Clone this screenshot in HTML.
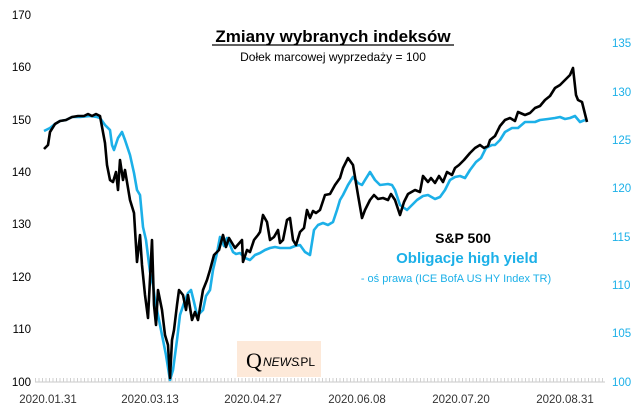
<!DOCTYPE html>
<html><head><meta charset="utf-8"><style>
body{margin:0;background:#fff;width:642px;height:415px;overflow:hidden}
svg{font-family:"Liberation Sans",sans-serif}
</style></head><body>
<svg width="642" height="415" viewBox="0 0 642 415">
<g font-size="11.5" fill="#000" text-anchor="end">
<text x="31" y="19">170</text><text x="31" y="71">160</text><text x="31" y="124">150</text>
<text x="31" y="176">140</text><text x="31" y="228">130</text><text x="31" y="281">120</text>
<text x="31" y="333">110</text><text x="31" y="386">100</text>
</g>
<g font-size="11.5" fill="#1cb0e8">
<text x="612" y="47">135</text><text x="612" y="96">130</text><text x="612" y="144">125</text>
<text x="612" y="192">120</text><text x="612" y="241">115</text><text x="612" y="289">110</text>
<text x="612" y="337">105</text><text x="612" y="386">100</text>
</g>
<line x1="35" y1="382" x2="605" y2="382" stroke="#c8c8c8" stroke-width="1"/>
<line x1="35" y1="380" x2="605" y2="380" stroke="#d0d0d0" stroke-width="4" stroke-dasharray="1 2.5"/>
<g font-size="11.5" fill="#333" text-anchor="middle">
<text x="48" y="403">2020.01.31</text><text x="150" y="403">2020.03.13</text><text x="253" y="403">2020.04.27</text>
<text x="357" y="403">2020.06.08</text><text x="461" y="403">2020.07.20</text><text x="565" y="403">2020.08.31</text>
</g>
<text x="333" y="42" font-size="17" font-weight="bold" text-anchor="middle">Zmiany wybranych indeksów</text>
<line x1="212" y1="45" x2="454" y2="45" stroke="#000" stroke-width="1.3"/>
<text x="333" y="61" font-size="12" text-anchor="middle">Dołek marcowej wyprzedaży = 100</text>
<text x="463" y="243" font-size="14" font-weight="bold" text-anchor="middle">S&amp;P 500</text>
<text x="467" y="263" font-size="15" font-weight="bold" fill="#1cb0e8" text-anchor="middle">Obligacje high yield</text>
<text x="456" y="282" font-size="11" fill="#1cb0e8" text-anchor="middle">- oś prawa (ICE BofA US HY Index TR)</text>
<rect x="237" y="341" width="84" height="36" fill="#fde9d9"/>
<text x="246" y="368" font-family="Liberation Serif" font-size="22" fill="#000">Q</text>
<text x="263" y="366" font-size="12" font-style="italic" fill="#000">NEWS</text>
<text x="297" y="366" font-size="12" fill="#000">.PL</text>
<polyline fill="none" stroke="#1cb0e8" stroke-width="2.6" stroke-linejoin="round" points="44,131 50,128 55,124 60,121 66,120 72,117 80,117 90,116 97,117 100,118 105,125 110,130 112,145 114,150 118,138 122,132 125,140 130,155 134,173 137,190 140,195 143,227 146,240 150,272 153,285 155,300 158,315 162,335 166,355 170,380 173,370 177,340 180,315 184,303 188,293 191,290 194,302 197,315 200,313 203,310 206,296 210,290 213,270 217,253 220,237 224,246 227,238 230,245 233,252 236,254 240,253 245,258 250,260 255,255 260,253 265,250 270,248 275,247 280,248 285,248 290,248 295,246 300,245 305,252 310,255 314,230 318,225 323,223 328,225 333,222 337,210 340,200 343,195 348,185 353,177 358,183 362,185 365,180 370,172 375,180 380,185 388,184 392,185 395,190 400,205 407,210 412,205 417,200 423,196 428,195 435,199 440,197 445,190 450,180 455,177 460,176 465,178 470,170 476,162 481,158 486,148 492,145 495,145 500,140 505,132 512,128 518,128 525,122 530,122 535,122 540,120 548,119 555,118 560,117 565,119 570,118 575,116 580,122 585,120"/>
<polyline fill="none" stroke="#000" stroke-width="2.6" stroke-linejoin="round" points="44,149 48,145 50,132 55,124 60,121 66,120 72,117 78,116 84,116 88,114 92,116 96,114 100,116 105,143 107,165 110,180 113,182 116,172 118,190 120,160 123,180 125,170 130,200 134,213 137,262 140,235 142,265 145,295 148,318 152,240 154,305 156,325 158,290 162,310 165,335 168,345 170,378 172,340 174,330 177,305 179,290 183,295 186,310 188,295 192,320 195,312 198,320 203,290 207,280 210,270 214,255 219,250 223,235 226,247 229,238 235,248 242,240 243,262 247,250 250,252 254,240 258,235 260,232 263,215 267,222 270,240 274,237 278,230 280,243 283,240 287,220 290,218 293,240 296,245 300,232 304,228 307,210 310,218 313,211 316,213 320,210 325,195 330,194 335,185 340,178 343,168 348,158 353,165 358,195 362,218 365,210 370,200 374,195 378,199 383,198 388,200 391,194 395,200 400,215 404,202 408,194 415,190 420,192 423,176 428,182 431,178 435,183 439,176 443,182 447,172 452,175 455,168 459,165 464,160 470,153 475,148 480,145 484,148 488,146 490,140 495,136 500,126 505,120 510,118 515,121 518,112 525,115 530,113 535,108 540,106 545,100 550,96 555,88 560,85 565,80 570,75 573,68 576,95 578,100 582,102 587,122"/>
</svg>
</body></html>
